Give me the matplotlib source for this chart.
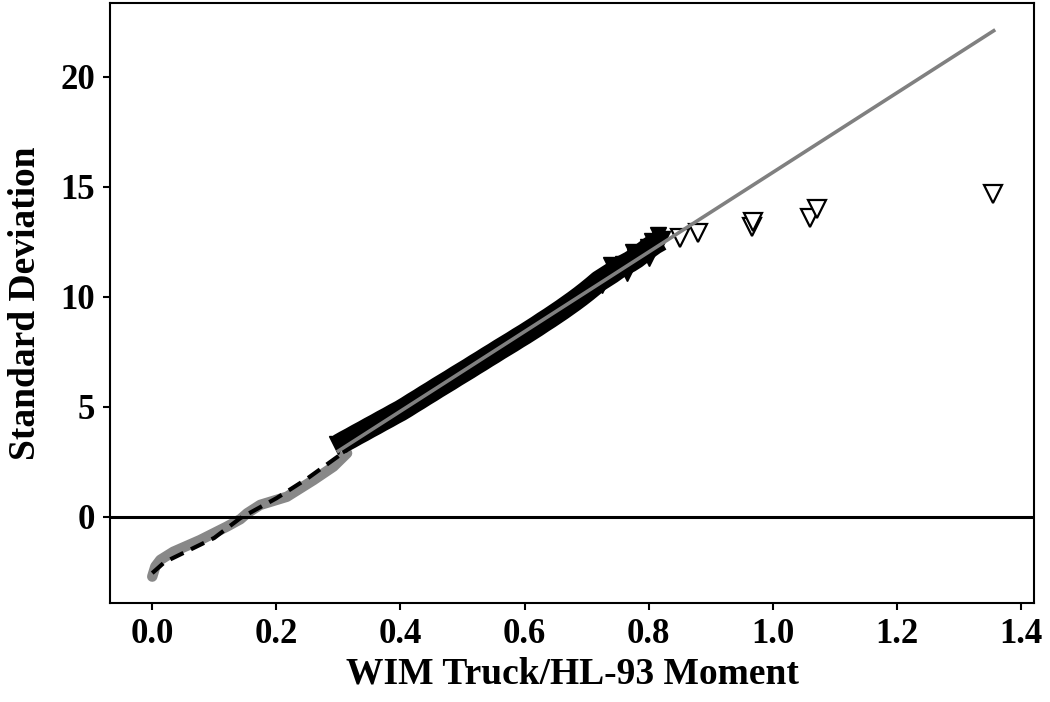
import matplotlib.pyplot as plt
import numpy as np

plt.rcParams['font.family'] = ['Liberation Serif', 'DejaVu Serif']
plt.rcParams['font.weight'] = 'bold'

# lower tail of the empirical curve (gray thick)
tail_curve_x = [0.000, 0.005, 0.013, 0.034, 0.077, 0.120, 0.142, 0.153, 0.174, 0.217, 0.260, 0.292, 0.314]
tail_curve_y = [-2.71, -2.25, -1.95, -1.58, -1.05, -0.44, -0.10, 0.17, 0.55, 0.92, 1.68, 2.29, 2.90]

# dashed fit over the lower range
dash_x = [0.000, 0.020, 0.060, 0.100, 0.142, 0.200, 0.250, 0.314]
dash_y = [-2.55, -2.05, -1.50, -0.95, -0.05, 0.85, 1.75, 3.05]

# dense body of data points
band_x = [0.30, 0.31, 0.32, 0.33, 0.34, 0.35, 0.36, 0.37, 0.38, 0.39,
          0.40, 0.41, 0.42, 0.43, 0.44, 0.45, 0.46, 0.47, 0.48, 0.49,
          0.50, 0.51, 0.52, 0.53, 0.54, 0.55, 0.56, 0.57, 0.58, 0.59,
          0.60, 0.61, 0.62, 0.63, 0.64, 0.65, 0.66, 0.67, 0.68, 0.69,
          0.70, 0.71, 0.72, 0.73, 0.74, 0.75, 0.76, 0.77, 0.78, 0.79,
          0.80, 0.81, 0.82]
band_y = [3.28, 3.44, 3.59, 3.75, 3.90, 4.06, 4.21, 4.37, 4.52, 4.68,
          4.83, 5.00, 5.18, 5.35, 5.53, 5.70, 5.88, 6.05, 6.22, 6.40,
          6.57, 6.74, 6.92, 7.09, 7.27, 7.44, 7.62, 7.79, 7.96, 8.14,
          8.31, 8.49, 8.67, 8.86, 9.04, 9.23, 9.42, 9.62, 9.82, 10.03,
          10.25, 10.48, 10.72, 10.90, 11.08, 11.28, 11.45, 11.60, 11.78, 12.00,
          12.22, 12.42, 12.58]

# a few stray points sticking out of the body near its top end
stray_x = [0.725, 0.765, 0.800, 0.740, 0.775, 0.805, 0.815]
stray_y = [10.55, 11.10, 11.75, 11.45, 12.05, 12.55, 12.80]

# sparse upper tail points
top_x = [0.850, 0.879, 0.966, 0.968, 1.060, 1.072, 1.355]
top_y = [12.7, 12.9, 13.2, 13.4, 13.6, 14.0, 14.7]

# straight reference line
fit_x = [0.30, 1.356]
fit_y = [3.0, 22.1]

fig = plt.figure(figsize=(10.5, 7.02), dpi=100)
ax = fig.add_axes([0.1048, 0.141, 0.88, 0.8547])

ax.plot(tail_curve_x, tail_curve_y, color='#888888', linewidth=7.5,
        solid_capstyle='round', solid_joinstyle='round', zorder=2)
ax.plot(dash_x, dash_y, color='black', linewidth=3, linestyle=(0, (3.5, 2)), zorder=3)
# body: so many points that the markers merge into a solid band
ax.plot(band_x, band_y, color='black', linewidth=15.5, solid_capstyle='butt',
        marker='v', markersize=13, markevery=[0, 46, 48, 50, 52],
        markerfacecolor='black', markeredgecolor='black', zorder=3)
ax.plot(stray_x, stray_y, linestyle='none', marker='v', markersize=12,
        markerfacecolor='black', markeredgecolor='black', zorder=3)
ax.plot(top_x, top_y, linestyle='none', marker='v', markersize=13,
        markerfacecolor='white', markeredgecolor='black', markeredgewidth=1.6, zorder=3)
ax.plot(fit_x, fit_y, color='#808080', linewidth=2.6, zorder=4)
ax.axhline(0, color='black', linewidth=2.2, zorder=5)

ax.set_xlim(-0.068, 1.421)
ax.set_ylim(-3.91, 23.36)
ax.set_xticks(np.arange(0, 1.41, 0.2))
ax.set_xticklabels(['0.0', '0.2', '0.4', '0.6', '0.8', '1.0', '1.2', '1.4'])
ax.set_yticks([0, 5, 10, 15, 20])

for s in ax.spines.values():
    s.set_linewidth(1.5)
ax.tick_params(direction='out', length=5, width=1.5, labelsize=25, pad=6)
for lab in ax.get_xticklabels() + ax.get_yticklabels():
    lab.set_fontweight('bold')

ax.set_xlabel('WIM Truck/HL-93 Moment', fontsize=27, fontweight='bold', labelpad=4)
ax.set_ylabel('Standard Deviation', fontsize=27, fontweight='bold', labelpad=12)

fig.savefig('out.png', dpi=100)
